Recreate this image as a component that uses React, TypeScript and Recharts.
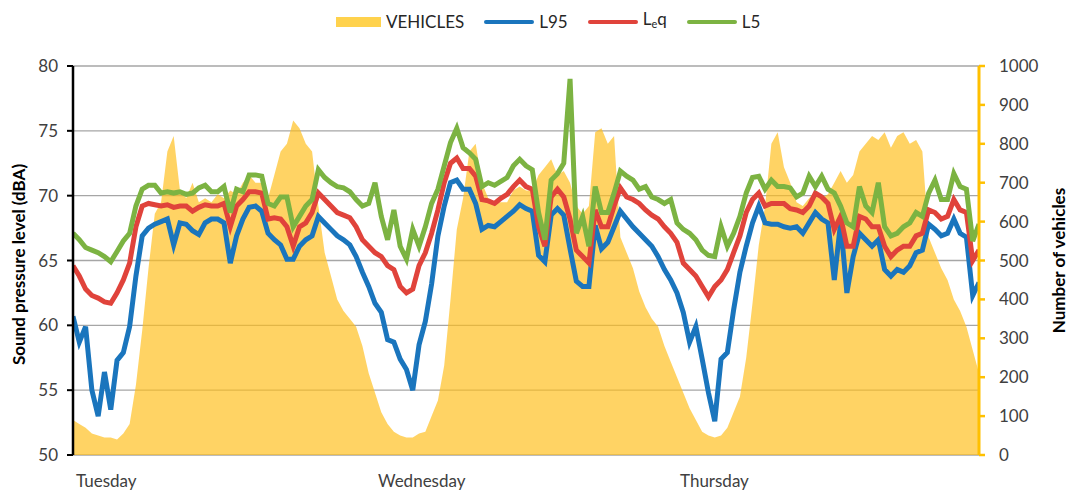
import React from "react";
import { ComposedChart, Area, Line, XAxis, YAxis, CartesianGrid } from "recharts";

// half-hour slots, Tuesday 00:00 -> Friday 00:00
const DAYS = ["Tuesday", "Wednesday", "Thursday"];
const DAY_TICKS = [0, 48, 96];
const DB_TICKS = [50, 55, 60, 65, 70, 75, 80];
const VEH_TICKS = [0, 100, 200, 300, 400, 500, 600, 700, 800, 900, 1000];

const VEHICLES = [
  90, 80, 70, 55, 50, 45, 45, 40, 55, 80, 180, 320, 480, 620, 650, 780, 820, 680, 660, 700,
  650, 660, 650, 670, 660, 680, 670, 700, 720, 700, 700, 660, 720, 780, 800, 860, 840, 800, 780, 640,
  520, 460, 400, 370, 350, 330, 280, 210, 160, 110, 80, 60, 50, 45, 45, 55, 60, 100, 140, 230,
  400, 580, 660, 780, 800, 700, 660, 650, 650, 650, 680, 690, 680, 680, 720, 740, 760, 720, 730, 700,
  640, 620, 640, 830, 840, 800, 820, 560, 520, 480, 420, 380, 350, 330, 280, 240, 200, 160, 120, 90,
  60, 50, 45, 50, 70, 110, 150, 250, 390, 540, 640, 800, 830, 740, 700, 650, 640, 660, 680, 660,
  670, 700, 730, 700, 720, 780, 800, 820, 810, 830, 790, 820, 830, 800, 810, 780, 560, 520, 480, 450,
  400, 370, 330, 270, 210,
];

const L95 = [
  60.7, 58.7, 59.9, 55.0, 53.0, 56.4, 53.5, 57.3, 57.9, 59.9, 63.8, 66.9, 67.5, 67.8, 68.0, 68.2, 66.2, 67.9, 67.8, 67.3,
  67.0, 67.9, 68.2, 68.2, 67.9, 64.8, 66.9, 68.2, 69.1, 69.2, 68.8, 67.1, 66.6, 66.2, 65.1, 65.1, 66.1, 66.6, 66.9, 68.4,
  67.9, 67.4, 66.9, 66.6, 66.2, 65.3, 64.1, 63.0, 61.7, 61.0, 58.9, 58.7, 57.4, 56.6, 55.0, 58.5, 60.3, 63.2, 66.9, 69.2,
  71.0, 71.2, 70.5, 70.5, 69.4, 67.4, 67.7, 67.6, 68.0, 68.4, 68.8, 69.3, 69.0, 68.8, 65.4, 64.9, 68.5, 69.0, 68.5, 65.9,
  63.4, 63.0, 63.0, 67.7, 65.9, 66.4, 67.6, 68.8, 68.2, 67.6, 67.1, 66.6, 66.1, 65.3, 64.3, 63.5, 62.5, 61.0, 58.7, 59.9,
  57.4, 54.8, 52.6, 57.4, 57.9, 61.2, 64.1, 66.1, 67.9, 69.2, 67.9, 67.8, 67.8, 67.6, 67.5, 67.6, 67.1, 67.9, 68.7, 68.2,
  67.9, 63.5, 67.9, 62.5, 65.3, 67.1, 66.6, 66.1, 66.6, 64.3, 63.8, 64.3, 64.1, 64.6, 65.6, 65.8, 67.8, 67.4, 66.9, 67.1,
  68.2, 67.1, 66.8, 62.3, 63.3,
];

const LEQ = [
  64.6, 63.8, 62.8, 62.3, 62.1, 61.8, 61.7, 62.5, 63.5, 64.8, 67.6, 69.2, 69.4, 69.3, 69.2, 69.3, 69.1, 69.2, 69.2, 68.8,
  69.1, 69.3, 69.2, 69.2, 69.4, 67.6, 69.2, 69.7, 70.3, 70.3, 70.2, 68.2, 68.3, 68.2, 67.6, 66.1, 67.6, 67.9, 68.7, 70.2,
  69.7, 69.2, 68.7, 68.5, 68.3, 67.6, 66.6, 66.1, 65.6, 65.3, 64.6, 64.3, 63.0, 62.5, 62.8, 64.6, 65.6, 67.1, 68.9, 71.0,
  72.5, 72.9, 72.1, 72.1, 71.5, 69.7, 69.6, 69.4, 69.8, 70.1, 70.7, 71.2, 70.7, 70.5, 67.6, 66.1, 69.9, 70.5, 69.9, 68.2,
  65.8, 65.3, 64.8, 68.9, 67.6, 67.6, 69.2, 70.6, 69.9, 69.7, 69.4, 68.9, 68.5, 68.2, 67.6, 67.1, 66.4, 64.8, 64.3, 63.8,
  63.0, 62.2, 63.0, 63.5, 64.3, 65.6, 66.9, 68.7, 69.7, 70.2, 69.2, 69.4, 69.4, 69.4, 69.0, 68.9, 68.7, 69.2, 70.2, 69.9,
  69.4, 67.4, 68.4, 66.1, 66.1, 68.4, 68.2, 67.6, 67.6, 66.1, 65.3, 65.8, 66.1, 66.1, 66.9, 67.1, 68.9, 68.7, 68.2, 68.4,
  69.7, 68.9, 68.7, 65.0, 65.8,
];

const L5 = [
  67.1, 66.6, 66.0, 65.8, 65.6, 65.3, 64.9, 65.7, 66.5, 67.1, 69.2, 70.5, 70.8, 70.8, 70.2, 70.3, 70.2, 70.3, 70.1, 70.2,
  70.6, 70.8, 70.3, 70.3, 70.7, 68.7, 70.5, 70.3, 71.6, 71.6, 71.5, 69.4, 69.2, 69.9, 69.9, 67.6, 68.4, 69.2, 69.7, 72.0,
  71.4, 71.0, 70.7, 70.6, 70.3, 69.7, 69.2, 69.4, 71.0, 68.4, 66.6, 68.9, 66.1, 65.1, 67.4, 66.1, 67.6, 69.4, 70.5, 72.3,
  74.1, 75.2, 73.7, 73.3, 72.8, 70.7, 71.0, 70.8, 71.1, 71.4, 72.3, 72.8, 72.3, 72.0, 68.7, 66.6, 71.2, 71.7, 72.5, 79.0,
  67.1, 68.4, 66.1, 70.7, 68.7, 68.7, 70.2, 71.9, 71.5, 71.2, 70.5, 70.7, 69.9, 69.7, 69.4, 69.7, 67.9, 67.4, 67.1, 66.6,
  65.8, 65.4, 65.3, 67.6, 66.1, 67.1, 68.4, 70.2, 71.4, 71.5, 70.5, 71.2, 70.7, 70.7, 70.6, 69.9, 70.2, 71.5, 70.7, 71.5,
  70.5, 70.2, 69.2, 67.9, 67.6, 70.7, 69.2, 68.7, 71.0, 67.6, 66.9, 67.1, 67.6, 67.9, 68.7, 68.4, 70.2, 71.2, 69.7, 69.7,
  71.7, 70.7, 70.5, 66.5, 67.8,
];

const data = VEHICLES.map((v, i) => ({
  slot: i,
  vehicles: v,
  l95: L95[i],
  leq: LEQ[i],
  l5: L5[i],
}));

const FONT = "Lato, 'Open Sans', sans-serif";
const YELLOW = "#FFBE1A";
const BLUE = "#1a75bd";
const RED = "#e0433b";
const GREEN = "#7cb342";

const DayTick = (props: any) => {
  const { x, y, payload } = props;
  return (
    <text x={x + 3} y={y + 32} textAnchor="start" fontSize={17} fill="#404040" fontFamily={FONT}>
      {DAYS[DAY_TICKS.indexOf(payload.value)]}
    </text>
  );
};

const LegendItem = ({ color, bar, children }: { color: string; bar?: boolean; children: React.ReactNode }) => (
  <div style={{ display: "flex", alignItems: "center", marginRight: 20 }}>
    <div
      style={{
        width: bar ? 45 : 50,
        height: bar ? 10 : 4,
        borderRadius: bar ? 0 : 2,
        background: color,
        marginRight: 5,
      }}
    />
    <span>{children}</span>
  </div>
);

export default function App() {
  return (
    <div
      style={{
        position: "absolute",
        top: 0,
        left: 0,
        width: 1070,
        height: 492,
        overflow: "hidden",
        background: "#fff",
        fontFamily: FONT,
      }}
    >
      <div
        style={{
          position: "absolute",
          top: 8,
          left: 336,
          display: "flex",
          fontSize: 17,
          color: "#262626",
          lineHeight: "22px",
        }}
      >
        <LegendItem color="#FFD24D" bar>VEHICLES</LegendItem>
        <LegendItem color={BLUE}>L95</LegendItem>
        <LegendItem color={RED}>
          L<sub style={{ fontSize: 11, verticalAlign: "-3px" }}>e</sub>q
        </LegendItem>
        <LegendItem color={GREEN}>L5</LegendItem>
      </div>
      <ComposedChart width={1070} height={492} data={data} margin={{ top: 66, right: 0, bottom: 0, left: 0 }}>
        <CartesianGrid yAxisId="left" vertical={false} stroke="#a6a6a6" strokeWidth={1.3} />
        <XAxis
          type="number"
          dataKey="slot"
          domain={[0, 144]}
          ticks={DAY_TICKS}
          tick={<DayTick />}
          tickSize={0}
          tickMargin={0}
          height={37}
          axisLine={false}
          tickLine={false}
          allowDataOverflow
        />
        <YAxis
          yAxisId="left"
          domain={[50, 80]}
          ticks={DB_TICKS}
          width={73}
          axisLine={{ stroke: "#000", strokeWidth: 2.5 }}
          tickLine={{ stroke: "#000", strokeWidth: 2 }}
          tickSize={6}
          tickMargin={9}
          tick={{ fontSize: 17, fill: "#404040", fontFamily: FONT }}
          interval={0}
          label={{
            value: "Sound pressure level (dBA)",
            angle: -90,
            position: "center",
            dx: -18,
            dy: 4,
            style: { fontSize: 17, fontWeight: 700, fill: "#000", fontFamily: FONT },
          }}
        />
        <YAxis
          yAxisId="right"
          orientation="right"
          domain={[0, 1000]}
          ticks={VEH_TICKS}
          width={91}
          axisLine={{ stroke: "#FFC000", strokeWidth: 3 }}
          tickLine={{ stroke: "#FFC000", strokeWidth: 2.5 }}
          tickSize={6}
          tickMargin={14}
          tick={{ fontSize: 17, fill: "#404040", fontFamily: FONT }}
          interval={0}
          label={{
            value: "Number of vehicles",
            angle: -90,
            position: "center",
            dx: 34,
            style: { fontSize: 17, fontWeight: 700, fill: "#000", fontFamily: FONT },
          }}
        />
        <Area
          yAxisId="right"
          type="linear"
          dataKey="vehicles"
          stroke="none"
          fill={YELLOW}
          fillOpacity={0.68}
          isAnimationActive={false}
        />
        <Line yAxisId="left" type="linear" dataKey="l95" stroke={BLUE} strokeWidth={5} dot={false} isAnimationActive={false} />
        <Line yAxisId="left" type="linear" dataKey="leq" stroke={RED} strokeWidth={5} dot={false} isAnimationActive={false} />
        <Line yAxisId="left" type="linear" dataKey="l5" stroke={GREEN} strokeWidth={5} dot={false} isAnimationActive={false} />
      </ComposedChart>
    </div>
  );
}
